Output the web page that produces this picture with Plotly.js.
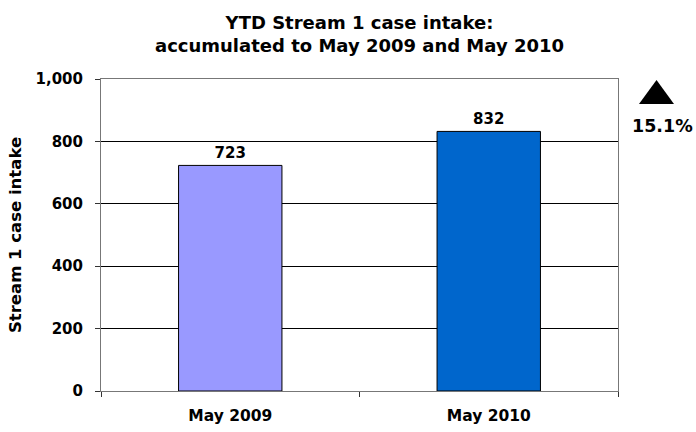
<!DOCTYPE html>
<html>
<head>
<meta charset="utf-8">
<script src="https://cdn.plot.ly/plotly-3.0.1.min.js"></script>
<style>html,body{margin:0;padding:0;background:#fff;}#chart{width:696px;height:432px;}</style>
</head>
<body>
<div id="chart"></div>
<script>
var categories = ["May 2009", "May 2010"];
var intake = [723, 832];
var barColors = ["#9999FF", "#0066CC"];
var yTickVals = [0, 200, 400, 600, 800, 1000];
var yTickText = ["0", "200", "400", "600", "800", "1,000"];

var change = (intake[1] - intake[0]) / intake[0] * 100;
var font = "DejaVu Sans, Liberation Sans, Arial, sans-serif";

var trace = {
  type: "bar",
  x: categories,
  y: intake,
  text: intake.map(String),
  textposition: "outside",
  cliponaxis: false,
  textfont: {family: font, size: 15, color: "#000", weight: "bold"},
  marker: {color: barColors, line: {color: "#000", width: 1}},
  hoverinfo: "none"
};

var layout = {
  width: 696, height: 432,
  margin: {l: 101, r: 78, t: 79, b: 41},
  paper_bgcolor: "#fff", plot_bgcolor: "#fff",
  font: {family: font, color: "#000"},
  showlegend: false,
  bargap: 0.6,
  title: {
    text: "<b>YTD Stream 1 case intake:<br>accumulated to May 2009 and May 2010</b>",
    font: {family: font, size: 18, color: "#000"},
    x: 0.5, xref: "paper", xanchor: "center",
    yref: "container", y: 0.934, yanchor: "middle"
  },
  xaxis: {
    type: "category",
    tickson: "boundaries",
    ticks: "outside", ticklen: 5, tickcolor: "#333",
    showline: true, linecolor: "#777", linewidth: 1, mirror: true,
    showgrid: false,
    tickfont: {family: font, size: 15.5, color: "#000", weight: "bold"},
    ticklabelstandoff: 10
  },
  yaxis: {
    range: [0, 1000],
    tickvals: yTickVals, ticktext: yTickText,
    ticks: "outside", ticklen: 5, tickcolor: "#333",
    showline: true, linecolor: "#777", linewidth: 1, mirror: true,
    showgrid: true, gridcolor: "#000", gridwidth: 1,
    zeroline: false,
    tickfont: {family: font, size: 15, color: "#000", weight: "bold"},
    ticklabelstandoff: 9,
    title: {text: "<b>Stream 1 case intake</b>", font: {family: font, size: 16.5, color: "#000"}, standoff: 9}
  },
  shapes: [{
    type: "path", xref: "paper", yref: "paper",
    path: "M 1.0406 0.9199 L 1.1083 0.9199 L 1.0745 0.9968 Z",
    fillcolor: "#000", line: {color: "#000", width: 0}
  }],
  annotations: [{
    xref: "paper", yref: "paper",
    x: 1.086, y: 0.848, xanchor: "center", yanchor: "middle",
    text: "<b>" + change.toFixed(1) + "%</b>",
    showarrow: false,
    font: {family: font, size: 17.5, color: "#000"}
  }]
};

Plotly.newPlot("chart", [trace], layout, {displayModeBar: false, staticPlot: true});
</script>
</body>
</html>
